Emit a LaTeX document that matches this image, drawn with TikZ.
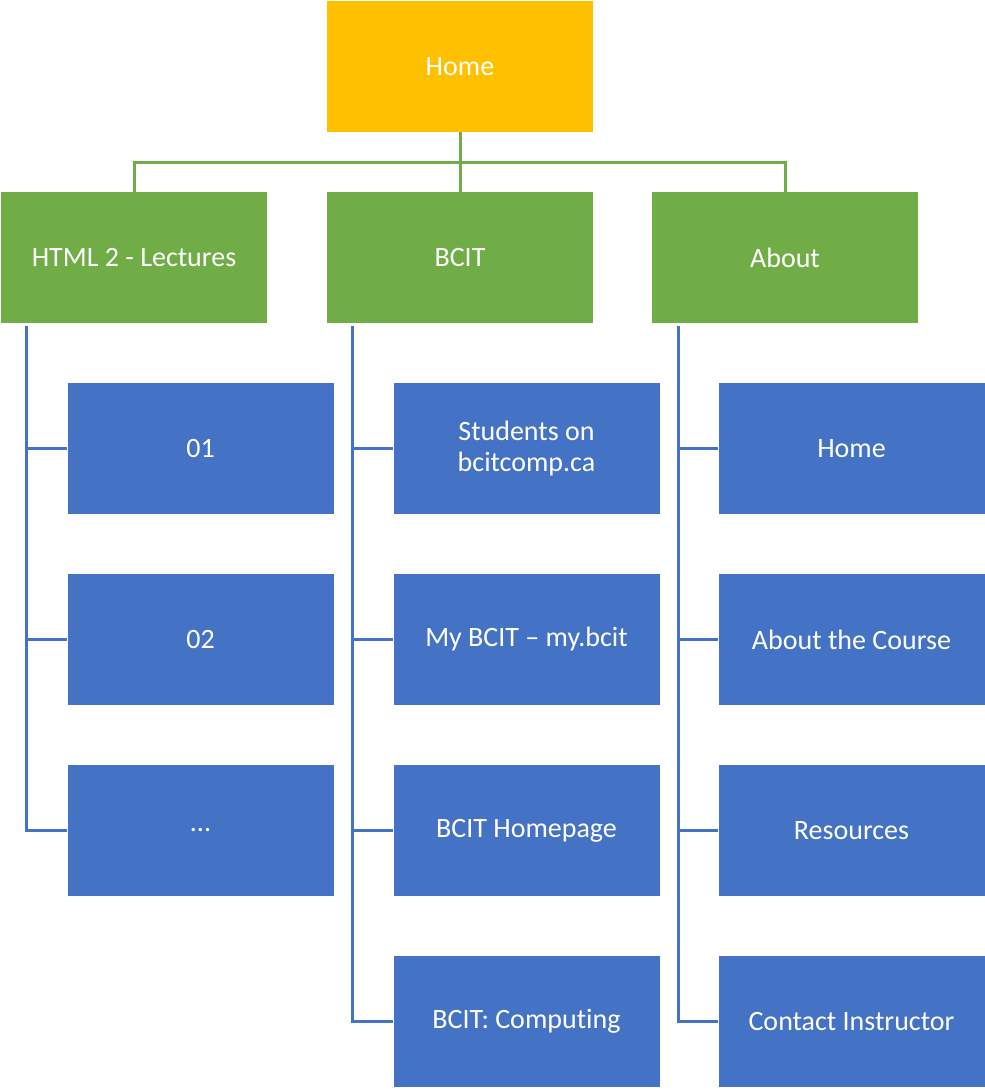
\documentclass[tikz,border=0pt]{standalone}
\usepackage{fontspec}
\setmainfont{Carlito}[Ligatures=NoCommon]
\definecolor{homegold}{HTML}{FFC000}
\definecolor{sectgreen}{HTML}{70AD47}
\definecolor{pageblue}{HTML}{4472C4}

\begin{document}
\begin{tikzpicture}[
  x=1pt, y=-1pt,
  site node/.style={minimum width=266pt, minimum height=131pt, inner sep=2pt,
    text=white, align=center, font=\fontsize{28}{31}\selectfont},
  home node/.style={site node, fill=homegold},
  sect node/.style={site node, fill=sectgreen},
  page node/.style={site node, fill=pageblue},
  sect edge/.style={draw=sectgreen, line width=3pt},
  page edge/.style={draw=pageblue, line width=3pt}
]
\useasboundingbox (0,0) rectangle (985,1090);
\node[home node] (home) at (460.0, 66.5) {Home};
\node[sect node] (lec) at (134.0, 257.5) {HTML 2 - Lectures};
\node[sect node] (bcit) at (460.0, 257.5) {BCIT};
\node[sect node] (about) at (785.0, 257.5) {About};
\node[page node] (lec1) at (200.5, 448.5) {01};
\node[page node] (lec2) at (200.5, 639.5) {02};
\node[page node] (lec3) at (200.5, 830.5) {...};
\node[page node] (bcit1) at (526.5, 448.5) {Students on\\bcitcomp.ca};
\node[page node] (bcit2) at (526.5, 639.5) {My BCIT – my.bcit};
\node[page node] (bcit3) at (526.5, 830.5) {BCIT Homepage};
\node[page node] (bcit4) at (526.5, 1021.5) {BCIT: Computing};
\node[page node] (about1) at (851.5, 448.5) {Home};
\node[page node] (about2) at (851.5, 639.5) {About the Course};
\node[page node] (about3) at (851.5, 830.5) {Resources};
\node[page node] (about4) at (851.5, 1021.5) {Contact Instructor};
\coordinate (bus) at (460.0, 162.0);
\coordinate (lec rail) at (26.0, 326.0);
\coordinate (bcit rail) at (352.0, 326.0);
\coordinate (about rail) at (678.0, 326.0);
% top level
\draw[sect edge] (home.south) -- (bus);
\draw[sect edge] (lec.north) |- (bus) -| (about.north);
\draw[sect edge] (bus) -- (bcit.north);
% second level
\draw[page edge] (lec rail) |- (lec1.west);
\draw[page edge] (lec rail) |- (lec2.west);
\draw[page edge] (lec rail) |- (lec3.west);
\draw[page edge] (bcit rail) |- (bcit1.west);
\draw[page edge] (bcit rail) |- (bcit2.west);
\draw[page edge] (bcit rail) |- (bcit3.west);
\draw[page edge] (bcit rail) |- (bcit4.west);
\draw[page edge] (about rail) |- (about1.west);
\draw[page edge] (about rail) |- (about2.west);
\draw[page edge] (about rail) |- (about3.west);
\draw[page edge] (about rail) |- (about4.west);
\end{tikzpicture}
\end{document}
